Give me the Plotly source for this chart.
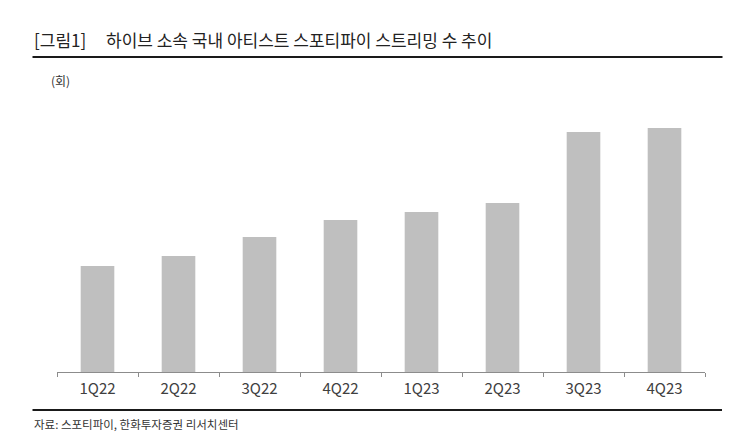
import plotly.graph_objects as go

categories = ["1Q22", "2Q22", "3Q22", "4Q22", "1Q23", "2Q23", "3Q23", "4Q23"]
streams = [106, 116, 135, 152, 160, 169, 240, 244]

title_tag = "[그림1]"
title_text = "하이브 소속 국내 아티스트 스포티파이 스트리밍 수 추이"
unit_text = "(회)"
source_text = "자료: 스포티파이, 한화투자증권 리서치센터"

W, H = 743, 446
L, R, T, B = 57, 38, 100, 74
PW = W - L - R
PH = H - T - B

def px(x):
    return (x - L) / PW

def py(y):
    return (H - B - y) / PH

FONT = "Noto Sans CJK KR"

fig = go.Figure()
fig.add_trace(go.Bar(
    x=categories, y=streams,
    marker=dict(color="#bfbfbf", line=dict(width=0)),
    hoverinfo="x+y",
))

fig.update_layout(
    width=W, height=H,
    margin=dict(l=L, r=R, t=T, b=B, pad=0),
    paper_bgcolor="white", plot_bgcolor="white",
    bargap=0.585,
    showlegend=False,
    font=dict(family=FONT, color="#333333"),
    xaxis=dict(
        showline=True, linecolor="#8c8c8c", linewidth=1,
        ticks="outside", tickson="boundaries", ticklen=4, tickcolor="#8c8c8c",
        tickfont=dict(size=15, color="#404040", family=FONT),
        ticklabelstandoff=3,
        showgrid=False, zeroline=False, fixedrange=True,
    ),
    yaxis=dict(
        range=[0, PH], visible=False, showgrid=False, zeroline=False, fixedrange=True,
    ),
    shapes=[
        dict(type="line", xref="paper", yref="paper",
             x0=px(32.5), x1=px(722.5), y0=py(57), y1=py(57),
             line=dict(color="#1a1a1a", width=2)),
        dict(type="line", xref="paper", yref="paper",
             x0=px(32.5), x1=px(722), y0=py(410), y1=py(410),
             line=dict(color="#1a1a1a", width=2)),
    ],
    annotations=[
        dict(text=title_tag, xref="paper", yref="paper", x=px(32), y=py(40),
             xanchor="left", yanchor="middle", showarrow=False,
             font=dict(size=17, color="#222222", family=FONT)),
        dict(text=title_text, xref="paper", yref="paper", x=px(104), y=py(40),
             xanchor="left", yanchor="middle", showarrow=False,
             font=dict(size=17, color="#222222", family=FONT)),
        dict(text=unit_text, xref="paper", yref="paper", x=px(49), y=py(80),
             xanchor="left", yanchor="middle", showarrow=False,
             font=dict(size=12, color="#333333", family=FONT)),
        dict(text=source_text, xref="paper", yref="paper", x=px(32), y=py(424),
             xanchor="left", yanchor="middle", showarrow=False,
             font=dict(size=11.5, color="#333333", family=FONT)),
    ],
)

fig.write_html("out.html")
